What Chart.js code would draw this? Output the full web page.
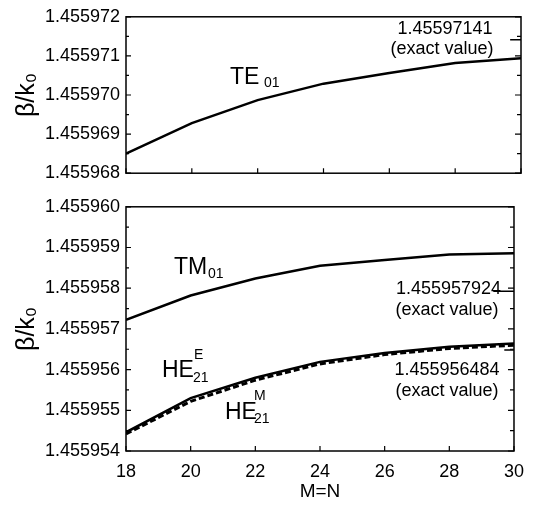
<!DOCTYPE html>
<html>
<head>
<meta charset="utf-8">
<script src="https://cdn.jsdelivr.net/npm/chart.js@4.4.1/dist/chart.umd.min.js"></script>
<style>
  html, body { margin: 0; padding: 0; background: #fff; }
  #wrap { position: relative; width: 534px; height: 506px; }
  .box { position: absolute; left: 0; width: 534px; }
  #topBox { top: 0; height: 190px; }
  #botBox { top: 190px; height: 316px; }
</style>
</head>
<body>
<div id="wrap">
  <div class="box" id="topBox"><canvas id="topChart" width="534" height="190"></canvas></div>
  <div class="box" id="botBox"><canvas id="botChart" width="534" height="316"></canvas></div>
</div>
<script>
// ---- data ----
const mn = [18, 20, 22, 24, 26, 28, 30];
const te01 = [1.4559685, 1.45596928, 1.45596987, 1.45597029, 1.45597056, 1.45597082, 1.45597094];
const tm01 = [1.45595722, 1.45595782, 1.45595824, 1.45595855, 1.45595869, 1.45595883, 1.45595886];
const he21E = [1.45595446, 1.4559553, 1.4559558, 1.45595619, 1.45595641, 1.45595656, 1.45595664];
const he21M = [1.45595442, 1.45595522, 1.45595574, 1.45595614, 1.45595637, 1.45595652, 1.4559566];

const exactTE01 = 1.45597141;
const exactTM01 = 1.455957924;
const exactHE21 = 1.455956484;

const xTicks = [18, 20, 22, 24, 26, 28, 30];
const topYTicks = [1.455968, 1.455969, 1.455970, 1.455971, 1.455972];
const botYTicks = [1.455954, 1.455955, 1.455956, 1.455957, 1.455958, 1.455959, 1.455960];

const FONT = "'Liberation Sans', Arial, sans-serif";
Chart.defaults.font.family = FONT;
Chart.defaults.color = '#000';

const pts = ys => mn.map((x, i) => ({ x: x, y: ys[i] }));
const exactMark = (from, v) => ({
  data: [{ x: from, y: v }, { x: 30, y: v }],
  borderColor: '#000', borderWidth: 1.5, pointRadius: 0
});

// box round the plot and inward tick marks
const framePlugin = {
  id: 'frame',
  afterDatasetsDraw(chart, args, opts) {
    const { ctx, chartArea: a, scales: { x, y } } = chart;
    const yt = opts.yTicks;
    ctx.save();
    ctx.strokeStyle = '#000';
    ctx.lineWidth = 1.5;
    ctx.strokeRect(a.left, a.top, a.right - a.left, a.bottom - a.top);
    ctx.lineWidth = 1.2;
    ctx.beginPath();
    yt.forEach((v, i) => {
      const py = y.getPixelForValue(v);
      ctx.moveTo(a.left, py); ctx.lineTo(a.left + 5, py);
      ctx.moveTo(a.right, py); ctx.lineTo(a.right - 6, py);
      if (i < yt.length - 1) {
        const pm = y.getPixelForValue((v + yt[i + 1]) / 2);
        ctx.moveTo(a.left, pm); ctx.lineTo(a.left + 3, pm);
        ctx.moveTo(a.right, pm); ctx.lineTo(a.right - 4, pm);
      }
    });
    xTicks.forEach(v => {
      const px = x.getPixelForValue(v);
      ctx.moveTo(px, a.bottom); ctx.lineTo(px, a.bottom - 5);
    });
    ctx.stroke();
    ctx.restore();
  }
};

// mode names and "exact value" notes
const labelPlugin = {
  id: 'notes',
  afterDraw(chart, args, opts) {
    const ctx = chart.ctx;
    const dy = opts.offsetY || 0;
    ctx.save();
    ctx.fillStyle = '#000';
    ctx.textBaseline = 'middle';
    opts.items.forEach(it => {
      ctx.font = (it.size || 18) + 'px ' + FONT;
      ctx.textAlign = it.align || 'left';
      ctx.fillText(it.text, it.x, it.y - dy);
    });
    ctx.restore();
  }
};

function yScale(ticks, padTop) {
  return {
    min: ticks[0], max: ticks[ticks.length - 1],
    afterBuildTicks: s => { s.ticks = ticks.map(v => ({ value: v })); },
    afterFit: s => { s.width = 126; },
    grid: { display: false, drawTicks: false },
    border: { display: false },
    ticks: { padding: 6, font: { size: 18 }, callback: v => v.toFixed(6) },
    title: { display: true, text: 'β/k₀', font: { size: 25, lineHeight: 1 }, padding: { top: padTop } }
  };
}

new Chart(document.getElementById('topChart'), {
  type: 'line',
  data: {
    datasets: [
      { data: pts(te01), borderColor: '#000', borderWidth: 2.5, pointRadius: 0 },
      exactMark(29.67, exactTE01)
    ]
  },
  options: {
    responsive: false,
    animation: false,
    layout: { padding: { top: 16, right: 13, bottom: 12, left: 0 } },
    plugins: {
      legend: { display: false }, tooltip: { enabled: false },
      frame: { yTicks: topYTicks },
      notes: {
        offsetY: 0,
        items: [
          { text: 'TE', x: 230, y: 78, size: 23 },
          { text: '01', x: 264, y: 83, size: 14 },
          { text: '1.45597141', x: 445, y: 29, align: 'center' },
          { text: '(exact value)', x: 442, y: 49, align: 'center' }
        ]
      }
    },
    scales: {
      x: { type: 'linear', min: 18, max: 30, display: false },
      y: yScale(topYTicks, 15)
    }
  },
  plugins: [framePlugin, labelPlugin]
});

new Chart(document.getElementById('botChart'), {
  type: 'line',
  data: {
    datasets: [
      { data: pts(tm01), borderColor: '#000', borderWidth: 2.5, pointRadius: 0 },
      { data: pts(he21M), borderColor: '#000', borderWidth: 3, borderDash: [6, 3], pointRadius: 0 },
      { data: pts(he21E), borderColor: '#000', borderWidth: 2.5, pointRadius: 0 },
      exactMark(29.36, exactTM01),
      exactMark(29.7, exactHE21)
    ]
  },
  options: {
    responsive: false,
    animation: false,
    layout: { padding: { top: 12, right: 13, bottom: 0, left: 0 } },
    plugins: {
      legend: { display: false }, tooltip: { enabled: false },
      frame: { yTicks: botYTicks },
      notes: {
        offsetY: 190,
        items: [
          { text: 'TM', x: 174, y: 268, size: 23 },
          { text: '01', x: 208, y: 274, size: 14 },
          { text: '1.455957924', x: 501, y: 289, align: 'right' },
          { text: '(exact value)', x: 447, y: 310, align: 'center' },
          { text: 'HE', x: 162, y: 371, size: 23 },
          { text: 'E', x: 194, y: 355, size: 14 },
          { text: '21', x: 193, y: 378, size: 14 },
          { text: '1.455956484', x: 447, y: 370, align: 'center' },
          { text: '(exact value)', x: 447, y: 391, align: 'center' },
          { text: 'HE', x: 225, y: 413, size: 23 },
          { text: 'M', x: 254, y: 396, size: 14 },
          { text: '21', x: 254, y: 419, size: 14 }
        ]
      }
    },
    scales: {
      x: {
        type: 'linear', min: 18, max: 30,
        afterBuildTicks: s => { s.ticks = xTicks.map(v => ({ value: v })); },
        afterFit: s => { s.height = 55; },
        grid: { display: false, drawTicks: false },
        border: { display: false },
        ticks: { padding: 10, font: { size: 18 } },
        title: { display: true, text: 'M=N', font: { size: 19 }, padding: { top: 0, bottom: 3 } }
      },
      y: yScale(botYTicks, 15)
    }
  },
  plugins: [framePlugin, labelPlugin]
});
</script>
</body>
</html>
